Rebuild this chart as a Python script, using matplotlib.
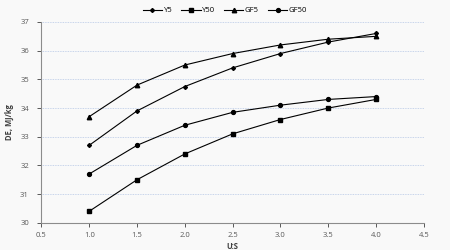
import matplotlib

matplotlib.use("Agg")
import matplotlib.pyplot as plt

# U:S ratio
us_ratio = [1.0, 1.5, 2.0, 2.5, 3.0, 3.5, 4.0]

# DE, MJ/kg per series
y5 = [32.7, 33.9, 34.75, 35.4, 35.9, 36.3, 36.6]
y50 = [30.4, 31.5, 32.4, 33.1, 33.6, 34.0, 34.3]
gf5 = [33.7, 34.8, 35.5, 35.9, 36.2, 36.4, 36.5]
gf50 = [31.7, 32.7, 33.4, 33.85, 34.1, 34.3, 34.4]

plt.rcParams["font.family"] = ["Open Sans", "DejaVu Sans"]

fig = plt.figure(figsize=(4.5, 2.5), dpi=100, facecolor="#f9f9f9")
ax = fig.add_axes([0.092, 0.109, 0.85, 0.803], facecolor="#f9f9f9")

line_kw = dict(color="black", lw=0.8)
ax.plot(us_ratio, y5, marker="D", ms=2.0, label="Y5", **line_kw)
ax.plot(us_ratio, y50, marker="s", ms=3.0, label="Y50", **line_kw)
ax.plot(us_ratio, gf5, marker="^", ms=3.2, label="GF5", **line_kw)
ax.plot(us_ratio, gf50, marker="o", ms=2.8, label="GF50", **line_kw)

ax.set_xlim(0.5, 4.5)
ax.set_ylim(30, 37)
ax.set_xticks([0.5, 1.0, 1.5, 2.0, 2.5, 3.0, 3.5, 4.0, 4.5])
ax.set_xticklabels([f"{v:.1f}" for v in ax.get_xticks()])
ax.set_yticks(range(30, 38))
ax.yaxis.grid(True, color="#b7c8e6", ls=(0, (1, 1)), lw=0.6)
ax.set_axisbelow(True)

for side in ("top", "right"):
    ax.spines[side].set_visible(False)
for side in ("left", "bottom"):
    ax.spines[side].set_color("#8c8c8c")
ax.tick_params(labelsize=5.5, colors="#595959", length=3, width=0.7, direction="out")
ax.tick_params(axis="y", pad=6)

ax.set_xlabel("U:S", fontsize=5.5, fontweight="bold", color="#404040", labelpad=2)
ax.set_ylabel("DE, MJ/kg", fontsize=5.5, fontweight="bold", color="#404040", labelpad=4)

fig.legend(loc="upper center", bbox_to_anchor=(0.5, 1.0), ncol=4, frameon=False,
           fontsize=5.5, handlelength=2.5, columnspacing=1.2, handletextpad=0.2)

fig.savefig("out.png", dpi=100, facecolor=fig.get_facecolor())
